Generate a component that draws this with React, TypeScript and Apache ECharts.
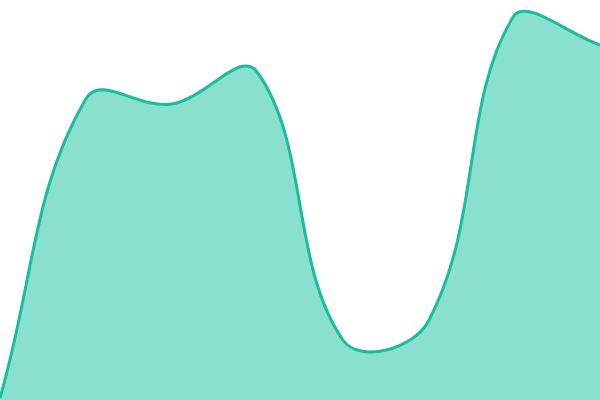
import React, { useEffect, useRef } from "react";
import * as echarts from "echarts";

const categories = ["A", "B", "C", "D", "E", "F", "G", "H"];
const values = [2, 301, 296, 328, 60, 79, 385, 355];
const TENSION = 0.4;

type Pt = { x: number; y: number };

function splinePath(pts: Pt[], t: number, area: { x: number; y: number; width: number; height: number }) {
  const n = pts.length;
  const cpPrev: Pt[] = [];
  const cpNext: Pt[] = [];
  const clamp = (v: number, a: number, b: number) => Math.max(a, Math.min(b, v));
  for (let i = 0; i < n; i++) {
    const cur = pts[i];
    const prev = i > 0 ? pts[i - 1] : cur;
    const next = i < n - 1 ? pts[i + 1] : cur;
    const d01 = Math.hypot(cur.x - prev.x, cur.y - prev.y);
    const d12 = Math.hypot(next.x - cur.x, next.y - cur.y);
    let s01 = d01 / (d01 + d12);
    let s12 = d12 / (d01 + d12);
    if (isNaN(s01)) s01 = 0;
    if (isNaN(s12)) s12 = 0;
    const fa = t * s01;
    const fb = t * s12;
    const l = area.x, r = area.x + area.width, tp = area.y, b = area.y + area.height;
    cpPrev.push({
      x: clamp(cur.x - fa * (next.x - prev.x), l, r),
      y: clamp(cur.y - fa * (next.y - prev.y), tp, b),
    });
    cpNext.push({
      x: clamp(cur.x + fb * (next.x - prev.x), l, r),
      y: clamp(cur.y + fb * (next.y - prev.y), tp, b),
    });
  }
  let d = `M ${pts[0].x} ${pts[0].y}`;
  for (let i = 1; i < n; i++) {
    d += ` C ${cpNext[i - 1].x} ${cpNext[i - 1].y} ${cpPrev[i].x} ${cpPrev[i].y} ${pts[i].x} ${pts[i].y}`;
  }
  return d;
}

export default function App() {
  const ref = useRef<HTMLDivElement>(null);
  useEffect(() => {
    document.body.style.margin = "0";
    const chart = echarts.init(ref.current!, null, { renderer: "svg" });
    chart.setOption({
      animation: false,
      grid: { left: 0, right: 0, top: 0, bottom: 0 },
      xAxis: {
        type: "category",
        data: categories,
        boundaryGap: false,
        show: false,
      },
      yAxis: { type: "value", min: 0, max: 400, show: false },
      series: [
        {
          type: "custom",
          clip: true,
          data: values.map((v, i) => [i, v]),
          renderItem: (params: any, api: any) => {
            if (params.dataIndex !== 0) return null;
            const pts: Pt[] = values.map((v, i) => {
              const c = api.coord([i, v]);
              return { x: c[0], y: c[1] };
            });
            const area = params.coordSys;
            const line = splinePath(pts, TENSION, area);
            const base = api.coord([0, 0])[1];
            const fill = `${line} L ${pts[pts.length - 1].x} ${base} L ${pts[0].x} ${base} Z`;
            return {
              type: "group",
              children: [
                {
                  type: "path",
                  shape: { pathData: fill },
                  style: { fill: "#8ae0cf", stroke: null },
                },
                {
                  type: "path",
                  shape: { pathData: line },
                  style: { fill: null, stroke: "#1abc9c", lineWidth: 3 },
                },
              ],
            };
          },
        },
      ],
    });
    return () => chart.dispose();
  }, []);
  return <div ref={ref} style={{ width: 600, height: 400 }} />;
}
